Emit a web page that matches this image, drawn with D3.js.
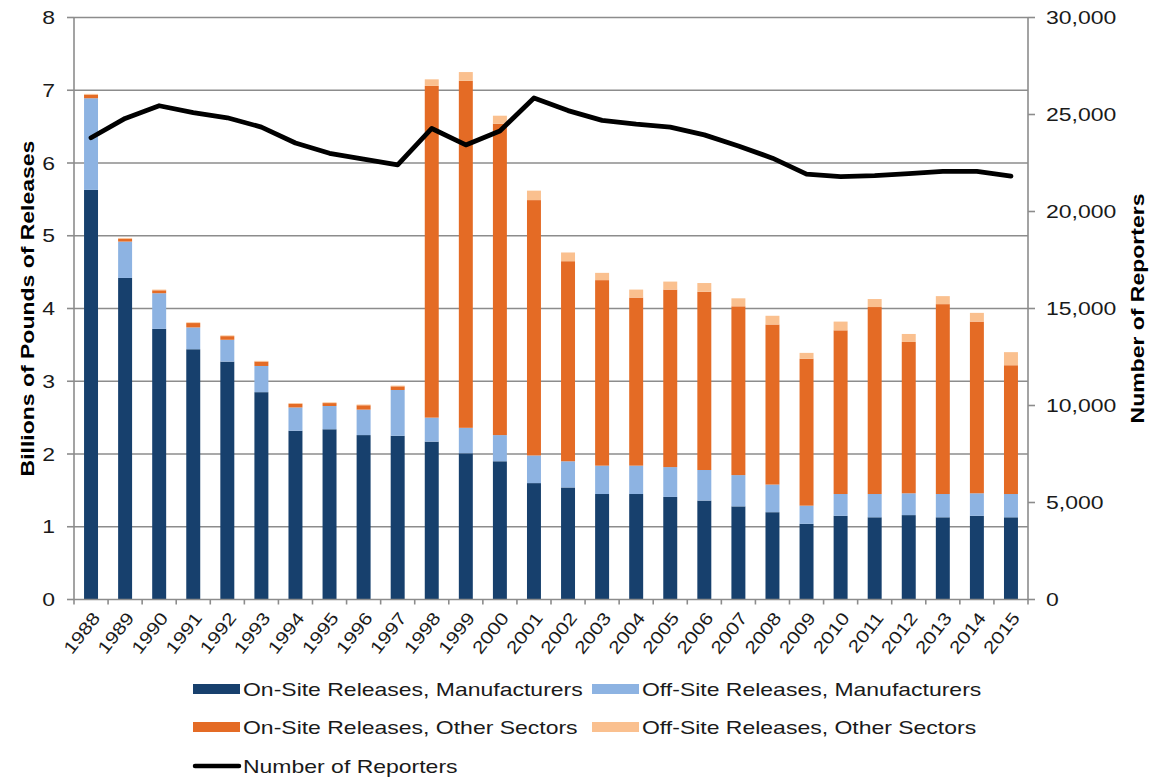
<!DOCTYPE html>
<html>
<head>
<meta charset="utf-8">
<script src="https://cdn.jsdelivr.net/npm/d3@7/dist/d3.min.js"></script>
<style>
  body { margin: 0; background: #fff; }
  text { font-family: "Liberation Sans", Arial, sans-serif; }
</style>
</head>
<body>
<div id="chart"></div>
<script>
// years on the x axis
var years = ["1988","1989","1990","1991","1992","1993","1994","1995","1996","1997",
             "1998","1999","2000","2001","2002","2003","2004","2005","2006","2007",
             "2008","2009","2010","2011","2012","2013","2014","2015"];

// billions of pounds
var onSiteMfg = [5.63,4.42,3.72,3.44,3.27,2.85,2.32,2.34,2.26,2.25,
                 2.17,2.01,1.90,1.60,1.54,1.45,1.45,1.41,1.36,1.28,
                 1.20,1.04,1.15,1.13,1.16,1.13,1.15,1.13];
var offSiteMfg = [1.26,0.50,0.49,0.30,0.30,0.36,0.32,0.32,0.35,0.63,
                  0.33,0.35,0.36,0.38,0.36,0.39,0.39,0.41,0.42,0.43,
                  0.38,0.25,0.30,0.32,0.30,0.32,0.31,0.32];
var onSiteOther = [0.05,0.04,0.04,0.06,0.05,0.06,0.05,0.04,0.06,0.05,
                   4.56,4.77,4.28,3.51,2.75,2.55,2.31,2.44,2.45,2.32,
                   2.20,2.02,2.25,2.57,2.08,2.61,2.36,1.77];
var offSiteOther = [0.01,0.01,0.01,0.01,0.01,0.01,0.01,0.01,0.01,0.01,
                    0.09,0.12,0.11,0.13,0.12,0.10,0.11,0.11,0.12,0.11,
                    0.12,0.08,0.12,0.11,0.11,0.11,0.12,0.18];

// number of reporters (right axis)
var reporters = [23800,24800,25450,25100,24830,24350,23530,23000,22700,22400,
                 24280,23430,24150,25850,25200,24700,24500,24350,23950,23380,
                 22750,21930,21800,21850,21950,22070,22070,21820];

var leftTicks = [0,1,2,3,4,5,6,7,8];
var rightTicks = [0,5000,10000,15000,20000,25000,30000];

var seriesNames = ["On-Site Releases, Manufacturers","Off-Site Releases, Manufacturers",
                   "On-Site Releases, Other Sectors","Off-Site Releases, Other Sectors"];
var seriesColors = ["#17406d","#8db3e2","#e46b25","#fac08f"];
var lineName = "Number of Reporters";

var W = 1152, H = 777;
var plotL = 74, plotR = 1028, plotT = 17.5, plotB = 599.5;
var sx = 1.21; // the reference glyphs run wider than Arial
var axisColor = "#8c8c8c";

var svg = d3.select("#chart").append("svg")
  .attr("width", W).attr("height", H);

var x = d3.scaleBand().domain(years).range([plotL, plotR]).paddingInner(0.59).paddingOuter(0.295);
var xb = d3.scaleBand().domain(years).range([plotL, plotR]); // full slots, for ticks
var y = d3.scaleLinear().domain([0, 8]).range([plotB, plotT]);
var y2 = d3.scaleLinear().domain([0, 30000]).range([plotB, plotT]);

// stretched text helper
function label(g, tx, ty, rot, str, opts) {
  opts = opts || {};
  return g.append("text")
    .attr("transform", "translate(" + tx + "," + ty + ") rotate(" + rot + ") scale(" + sx + ",1)")
    .attr("text-anchor", opts.anchor || "start")
    .attr("dy", opts.dy || "0.35em")
    .style("font-size", (opts.size || 19) + "px")
    .style("font-weight", opts.bold ? "bold" : "normal")
    .style("fill", opts.fill || "#1a1a1a")
    .text(str);
}

// gridlines
svg.append("g").selectAll("line")
  .data(leftTicks.slice(1))
  .enter().append("line")
    .attr("x1", plotL).attr("x2", plotR)
    .attr("y1", function(d) { return y(d); })
    .attr("y2", function(d) { return y(d); })
    .style("stroke", axisColor).style("stroke-width", "1.6px");

// stacked bars
var rows = years.map(function(yr, i) {
  return { year: yr, a: onSiteMfg[i], b: offSiteMfg[i], c: onSiteOther[i], d: offSiteOther[i] };
});
var stack = d3.stack().keys(["a","b","c","d"])(rows);

svg.append("g").selectAll("g")
  .data(stack)
  .enter().append("g")
    .style("fill", function(d, i) { return seriesColors[i]; })
  .selectAll("rect")
  .data(function(d) { return d; })
  .enter().append("rect")
    .attr("x", function(d) { return x(d.data.year); })
    .attr("width", x.bandwidth())
    .attr("y", function(d) { return y(d[1]); })
    .attr("height", function(d) { return y(d[0]) - y(d[1]); });

// axes lines and ticks
var ax = svg.append("g").style("stroke", axisColor).style("stroke-width", "1.6px");
ax.append("line").attr("x1", plotL).attr("x2", plotL).attr("y1", plotT).attr("y2", plotB + 5);
ax.append("line").attr("x1", plotR).attr("x2", plotR).attr("y1", plotT).attr("y2", plotB + 5);
ax.append("line").attr("x1", plotL).attr("x2", plotR).attr("y1", plotB).attr("y2", plotB);
ax.selectAll(".lt").data(leftTicks).enter().append("line")
  .attr("x1", plotL - 7).attr("x2", plotL)
  .attr("y1", function(d) { return y(d); }).attr("y2", function(d) { return y(d); });
ax.selectAll(".rt").data(rightTicks).enter().append("line")
  .attr("x1", plotR).attr("x2", plotR + 7)
  .attr("y1", function(d) { return y2(d); }).attr("y2", function(d) { return y2(d); });
ax.selectAll(".xt").data(years.slice(1)).enter().append("line")
  .attr("x1", function(d) { return xb(d); }).attr("x2", function(d) { return xb(d); })
  .attr("y1", plotB).attr("y2", plotB + 5);

// tick labels
var tl = svg.append("g");
leftTicks.forEach(function(t) {
  label(tl, 55, y(t), 0, String(t), { anchor: "end" });
});
var fmt = d3.format(",");
rightTicks.forEach(function(t) {
  label(tl, 1046, y2(t), 0, fmt(t), { anchor: "start" });
});
years.forEach(function(yr) {
  label(tl, xb(yr) + xb.bandwidth() / 2 + 5, plotB + 15, -52, yr, { anchor: "end", size: 17.5 });
});

// axis titles
label(svg, 34, (plotT + plotB) / 2, -90, "Billions of Pounds of Releases",
  { anchor: "middle", bold: true, dy: "0", fill: "#000" });
label(svg, 1144, (plotT + plotB) / 2, -90, "Number of Reporters",
  { anchor: "middle", bold: true, dy: "0", fill: "#000" });

// reporters line
var line = d3.line()
  .x(function(d, i) { return xb(years[i]) + xb.bandwidth() / 2; })
  .y(function(d) { return y2(d); });
svg.append("path")
  .datum(reporters)
  .attr("d", line)
  .style("fill", "none")
  .style("stroke", "#000")
  .style("stroke-width", "4.8px")
  .style("stroke-linejoin", "round")
  .style("stroke-linecap", "round");

// legend
var lg = svg.append("g");
var legendItems = [
  { name: seriesNames[0], color: seriesColors[0], x: 193, y: 689 },
  { name: seriesNames[1], color: seriesColors[1], x: 592, y: 689 },
  { name: seriesNames[2], color: seriesColors[2], x: 193, y: 727 },
  { name: seriesNames[3], color: seriesColors[3], x: 592, y: 727 }
];
legendItems.forEach(function(it) {
  lg.append("rect").attr("x", it.x).attr("y", it.y - 5).attr("width", 47).attr("height", 10)
    .style("fill", it.color);
  label(lg, it.x + 50, it.y, 0, it.name, { anchor: "start" });
});
lg.append("line").attr("x1", 195).attr("x2", 239).attr("y1", 766).attr("y2", 766)
  .style("stroke", "#000").style("stroke-width", "4.5px").style("stroke-linecap", "round");
label(lg, 243, 766, 0, lineName, { anchor: "start" });
</script>
</body>
</html>
